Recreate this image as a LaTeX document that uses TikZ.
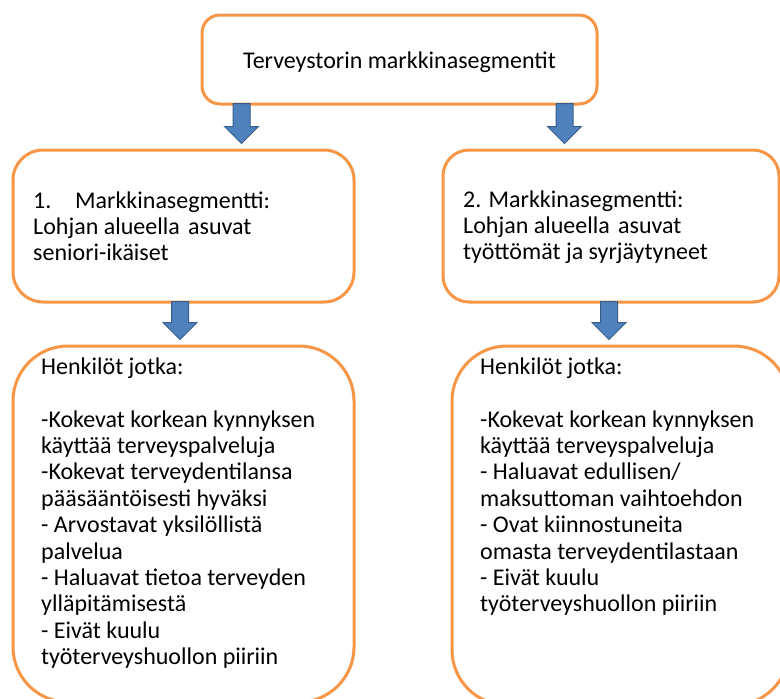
\documentclass[tikz,border=0pt]{standalone}
\usepackage{fontspec}
\setmainfont{Carlito}
\usetikzlibrary{calc}
\definecolor{boxorange}{HTML}{F79646}
\definecolor{arrowblue}{HTML}{4F81BD}
\definecolor{arrowedge}{HTML}{385D8A}
\tikzset{
  segbox/.style={draw=boxorange, line width=3pt, fill=white, rectangle},
  boxtext/.style={align=left, anchor=base west, inner sep=0pt, font=\fontsize{24}{26.4}\selectfont},
  blockarrow/.style={fill=arrowblue, draw=arrowedge, line width=1pt, line join=miter}
}
\newcommand{\blockarr}[2]{%
  \draw[blockarrow] ($(#1)+(-8.5,-2)$) -- ($(#2)+(-8.5,-22)$) -- ++(-8.5,0)
    -- ($(#2)+(0,-5)$) -- ($(#2)+(17,-22)$) -- ++(-8.5,0)
    -- ($(#1)+(8.5,-2)$) -- cycle;}
\begin{document}
\begin{tikzpicture}[x=1pt,y=-1pt]
\useasboundingbox (0,0) rectangle (780,699);
\clip (0,0) rectangle (780,699);
\fill[white] (0,0) rectangle (780,699);

% boxes
\node[segbox, minimum width=395pt, minimum height=89pt, rounded corners=18pt] (top) at (399.5,59.5) {};
\node[segbox, minimum width=341pt, minimum height=152pt, rounded corners=30pt] (midL) at (183.5,226) {};
\node[segbox, minimum width=336pt, minimum height=152pt, rounded corners=26pt] (midR) at (611,226) {};
\node[segbox, minimum width=341pt, minimum height=356pt, rounded corners=55pt] (botL) at (183.5,524) {};
\node[segbox, minimum width=337pt, minimum height=359pt, rounded corners=55pt] (botR) at (620.5,525.5) {};

% texts (anchor base = baseline of the last line)
\node[font=\fontsize{24}{26.4}\selectfont, inner sep=0pt, anchor=base] (title) at (399.5,68) {Terveystorin markkinasegmentit};
\node[boxtext] (tL) at (33,260.8) {\makebox[42pt][l]{1.}Markkinasegmentti:\\Lohjan alueella\hspace{3pt} asuvat\\seniori-ikäiset};
\node[boxtext] (tR) at (463,259.8) {2. Markkinasegmentti:\\Lohjan alueella\hspace{3pt} asuvat\\työttömät ja syrjäytyneet};
\node[boxtext] (bL) at (41,664.6) {Henkilöt jotka:\\[26.4pt]-Kokevat korkean kynnyksen\\käyttää terveyspalveluja\\-Kokevat terveydentilansa\\pääsääntöisesti hyväksi\\- Arvostavat yksilöllistä\\palvelua\\- Haluavat tietoa terveyden\\ylläpitämisestä\\- Eivät kuulu\\työterveyshuollon piiriin};
\node[boxtext] (bR) at (480,611.8) {Henkilöt jotka:\\[26.4pt]-Kokevat korkean kynnyksen\\käyttää terveyspalveluja\\- Haluavat edullisen/\\maksuttoman vaihtoehdon\\- Ovat kiinnostuneita\\omasta terveydentilastaan\\- Eivät kuulu\\työterveyshuollon piiriin};

% arrow anchor coordinates
\coordinate (a1s) at (241.5,0 |- top.south);
\coordinate (a1e) at (241.5,0 |- midL.north);
\coordinate (a2s) at (564.5,0 |- top.south);
\coordinate (a2e) at (564.5,0 |- midR.north);
\coordinate (a3s) at (180,0 |- midL.south);
\coordinate (a3e) at (180,0 |- botL.north);
\coordinate (a4s) at (609,0 |- midR.south);
\coordinate (a4e) at (609,0 |- botR.north);

\blockarr{a1s}{a1e}
\blockarr{a2s}{a2e}
\blockarr{a3s}{a3e}
\blockarr{a4s}{a4e}
\end{tikzpicture}
\end{document}
